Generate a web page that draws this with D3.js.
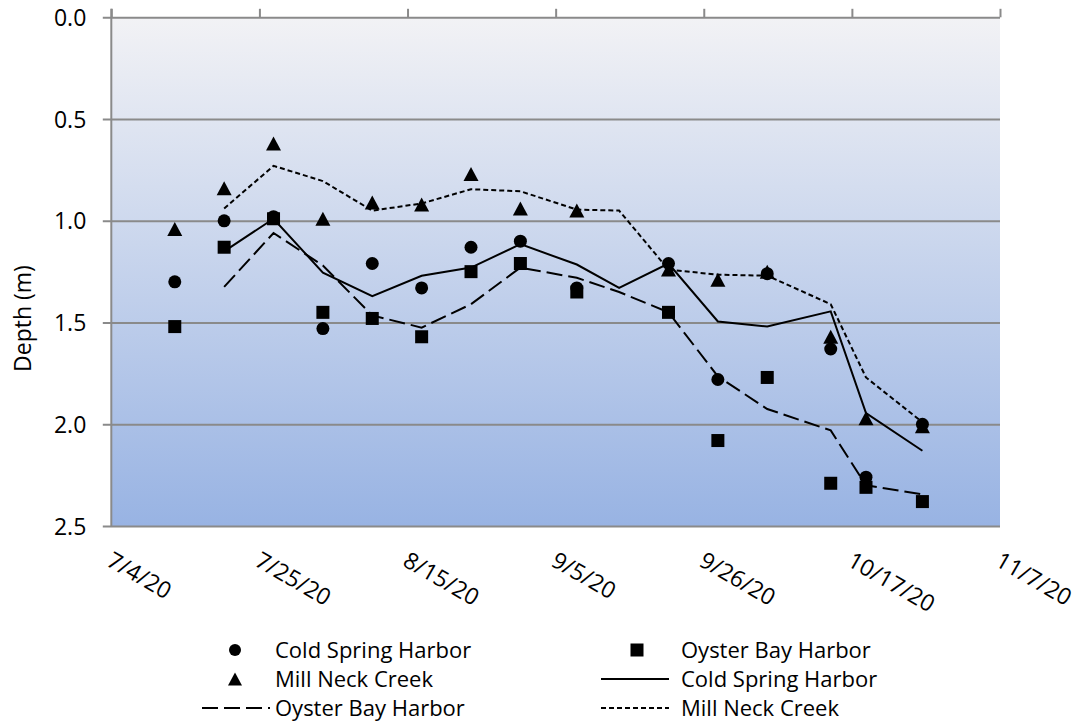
<!DOCTYPE html>
<html>
<head>
<meta charset="utf-8">
<script src="https://cdn.jsdelivr.net/npm/d3@7"></script>
<style>
  html, body { margin: 0; padding: 0; background: #ffffff; }
  svg { display: block; font-family: "Open Sans", "Noto Sans", sans-serif; }
</style>
</head>
<body>
<svg id="chart" width="1086" height="724"></svg>
<script>
// Sampling dates and measured depths (m) at each site
const sampleDates = ["2020-07-13","2020-07-20","2020-07-27","2020-08-03","2020-08-10","2020-08-17","2020-08-24","2020-08-31","2020-09-08","2020-09-21","2020-09-28","2020-10-05","2020-10-14","2020-10-19","2020-10-27"];
const coldSpringDepth = [1.30, 1.00, 0.98, 1.53, 1.21, 1.33, 1.13, 1.10, 1.33, 1.21, 1.78, 1.26, 1.63, 2.26, 2.00];
const millNeckDepth   = [1.04, 0.84, 0.62, 0.99, 0.91, 0.92, 0.77, 0.94, 0.95, 1.24, 1.29, 1.25, 1.57, 1.97, 2.01];
const oysterBayDepth  = [1.52, 1.13, 0.99, 1.45, 1.48, 1.57, 1.25, 1.21, 1.35, 1.45, 2.08, 1.77, 2.29, 2.31, 2.38];

// Two-sample running trend of each site
const trendDates = ["2020-07-20","2020-07-27","2020-08-03","2020-08-10","2020-08-17","2020-08-24","2020-08-31","2020-09-08","2020-09-14","2020-09-21","2020-09-28","2020-10-05","2020-10-14","2020-10-19","2020-10-27"];
const coldSpringTrend = [1.15, 0.99, 1.255, 1.37, 1.27, 1.23, 1.115, 1.215, 1.33, 1.21, 1.495, 1.52, 1.445, 1.945, 2.13];
const millNeckTrend   = [0.94, 0.73, 0.805, 0.95, 0.915, 0.845, 0.855, 0.945, 0.95, 1.24, 1.265, 1.27, 1.41, 1.77, 1.99];
const oysterBayTrend  = [1.325, 1.06, 1.22, 1.465, 1.525, 1.41, 1.23, 1.28, 1.35, 1.45, 1.765, 1.925, 2.03, 2.30, 2.345];

// Axis ticks
const xTickDates = ["2020-07-04","2020-07-25","2020-08-15","2020-09-05","2020-09-26","2020-10-17","2020-11-07"];
const yTicks = [0, 0.5, 1.0, 1.5, 2.0, 2.5];
const yTitle = "Depth (m)";
const siteNames = ["Cold Spring Harbor", "Oyster Bay Harbor", "Mill Neck Creek"];

const parse = d3.utcParse("%Y-%m-%d");
const fmt = d3.utcFormat("%-m/%-d/%y");

const svg = d3.select("#chart");
const plotLeft = 111.3, plotRight = 1000, plotTop = 17.3, plotBottom = 526;

const x = d3.scaleUtc()
  .domain([parse(xTickDates[0]), parse(xTickDates[xTickDates.length - 1])])
  .range([plotLeft, plotRight]);
const y = d3.scaleLinear().domain([0, 2.5]).range([plotTop, plotBottom]);

const axisGray = "#8a8a8a";

// Plot background gradient
const defs = svg.append("defs");
const grad = defs.append("linearGradient").attr("id", "plotBg")
  .attr("x1", 0).attr("y1", 0).attr("x2", 0).attr("y2", 1);
grad.append("stop").attr("offset", "0%").attr("stop-color", "#f2f2f5");
grad.append("stop").attr("offset", "100%").attr("stop-color", "#98b3e3");

svg.append("rect")
  .attr("x", plotLeft).attr("y", plotTop)
  .attr("width", plotRight - plotLeft).attr("height", plotBottom - plotTop)
  .attr("fill", "url(#plotBg)");

// Y axis: gridlines with outward ticks and labels on the left
const yAxis = d3.axisLeft(y)
  .tickValues(yTicks)
  .tickSize(-(plotRight - plotLeft))
  .tickPadding(0)
  .tickFormat(d3.format(".1f"));
const gy = svg.append("g").attr("transform", `translate(${plotLeft},0)`).call(yAxis);
gy.select(".domain").remove();
gy.selectAll(".tick line")
  .attr("x1", -8.5)
  .attr("stroke", axisGray).attr("stroke-width", 2);
gy.selectAll(".tick text")
  .attr("x", -25).attr("dy", null).attr("y", 8)
  .attr("font-size", 23).attr("fill", "#000")
  .attr("font-family", "Open Sans");

// Left axis line
svg.append("line")
  .attr("x1", plotLeft).attr("x2", plotLeft)
  .attr("y1", plotTop - 8.5).attr("y2", plotBottom)
  .attr("stroke", axisGray).attr("stroke-width", 2);

// X axis at depth 0 with upward ticks; labels below the plot
const gx = svg.append("g").attr("transform", `translate(0,${plotTop})`)
  .call(d3.axisTop(x).tickValues(xTickDates.map(parse)).tickSize(8.5).tickFormat(""));
gx.select(".domain").remove();
gx.selectAll(".tick line").attr("stroke", axisGray).attr("stroke-width", 2);

svg.append("g").selectAll("text")
  .data(xTickDates.map(parse))
  .join("text")
  .attr("transform", d => `translate(${x(d) - 6},565) rotate(30)`)
  .attr("font-size", 23)
  .attr("fill", "#000")
  .text(d => fmt(d));

// Y axis title
svg.append("text")
  .attr("transform", "translate(31,318.5) rotate(-90)")
  .attr("text-anchor", "middle")
  .attr("font-size", 23)
  .attr("fill", "#000")
  .text(yTitle);

// Trend lines
const lineGen = d3.line().x(d => x(d.date)).y(d => y(d.v));
const trendSeries = [
  { values: coldSpringTrend, dash: null },
  { values: oysterBayTrend, dash: "16,6" },
  { values: millNeckTrend, dash: "5,3" }
];
trendSeries.forEach(s => {
  const pts = trendDates.map((d, i) => ({ date: parse(d), v: s.values[i] }));
  svg.append("path")
    .attr("d", lineGen(pts))
    .attr("fill", "none")
    .attr("stroke", "#000")
    .attr("stroke-width", 2)
    .attr("stroke-dasharray", s.dash);
});

// Marker shapes
const triPath = "M0,-7 L7.5,7 L-7.5,7 Z";
const toPts = vals => sampleDates.map((d, i) => ({ date: parse(d), v: vals[i] }));

svg.append("g").selectAll("path")
  .data(toPts(millNeckDepth)).join("path")
  .attr("transform", d => `translate(${x(d.date)},${y(d.v)})`)
  .attr("d", triPath).attr("fill", "#000");

svg.append("g").selectAll("circle")
  .data(toPts(coldSpringDepth)).join("circle")
  .attr("cx", d => x(d.date)).attr("cy", d => y(d.v))
  .attr("r", 6.5).attr("fill", "#000");

svg.append("g").selectAll("rect")
  .data(toPts(oysterBayDepth)).join("rect")
  .attr("x", d => x(d.date) - 6.5).attr("y", d => y(d.v) - 6.5)
  .attr("width", 13).attr("height", 13).attr("fill", "#000");

// Legend
const legend = svg.append("g").attr("font-size", 22).attr("fill", "#000");
const rowY = [650, 679, 708];
const leftCol = { mx: 235, x1: 202, x2: 270, tx: 275 };
const rightCol = { mx: 637, x1: 601, x2: 669, tx: 681 };
const textDy = 8;

legend.append("circle").attr("cx", leftCol.mx).attr("cy", rowY[0]).attr("r", 6).attr("fill", "#000");
legend.append("text").attr("x", leftCol.tx).attr("y", rowY[0] + textDy).text(siteNames[0]);

legend.append("rect").attr("x", rightCol.mx - 6.5).attr("y", rowY[0] - 6.5)
  .attr("width", 13).attr("height", 13).attr("fill", "#000");
legend.append("text").attr("x", rightCol.tx).attr("y", rowY[0] + textDy).text(siteNames[1]);

legend.append("path").attr("transform", `translate(${leftCol.mx},${rowY[1]})`)
  .attr("d", "M0,-6.5 L7,6.5 L-7,6.5 Z").attr("fill", "#000");
legend.append("text").attr("x", leftCol.tx).attr("y", rowY[1] + textDy).text(siteNames[2]);

legend.append("line").attr("x1", rightCol.x1).attr("x2", rightCol.x2)
  .attr("y1", rowY[1]).attr("y2", rowY[1]).attr("stroke", "#000").attr("stroke-width", 2);
legend.append("text").attr("x", rightCol.tx).attr("y", rowY[1] + textDy).text(siteNames[0]);

legend.append("line").attr("x1", leftCol.x1).attr("x2", leftCol.x2)
  .attr("y1", rowY[2]).attr("y2", rowY[2]).attr("stroke", "#000").attr("stroke-width", 2)
  .attr("stroke-dasharray", "16,6");
legend.append("text").attr("x", leftCol.tx).attr("y", rowY[2] + textDy).text(siteNames[1]);

legend.append("line").attr("x1", rightCol.x1).attr("x2", rightCol.x2)
  .attr("y1", rowY[2]).attr("y2", rowY[2]).attr("stroke", "#000").attr("stroke-width", 2)
  .attr("stroke-dasharray", "5,3");
legend.append("text").attr("x", rightCol.tx).attr("y", rowY[2] + textDy).text(siteNames[2]);
</script>
</body>
</html>
